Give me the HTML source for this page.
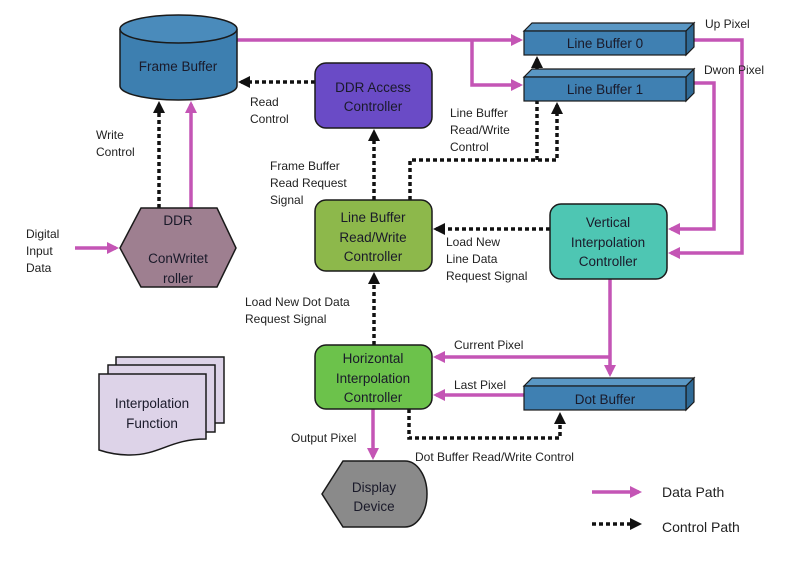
<!DOCTYPE html>
<html><head><meta charset="utf-8"><style>
body{margin:0;background:#fff}
svg{display:block}
.l{font-family:"Liberation Sans",Arial,sans-serif;font-size:12px;fill:#222}
.n{font-family:"Liberation Sans",Arial,sans-serif;font-size:13.5px;fill:#1a1a2a;text-anchor:middle}
</style></head><body>
<svg width="800" height="570" viewBox="0 0 800 570">
<defs>
<marker id="am" markerWidth="12" markerHeight="12" refX="9" refY="6" orient="auto" markerUnits="userSpaceOnUse"><path d="M0,0 L12,6 L0,12 z" fill="#c455b5"/></marker>
<marker id="ak" markerWidth="12" markerHeight="12" refX="9" refY="6" orient="auto" markerUnits="userSpaceOnUse"><path d="M0,0 L12,6 L0,12 z" fill="#111"/></marker>
</defs>
<g fill="none" stroke="#c455b5" stroke-width="3.5">
<path d="M237,40 H520" marker-end="url(#am)"/>
<path d="M472,40 V85 H520" marker-end="url(#am)"/>
<path d="M688,40 H742 V253 H671" marker-end="url(#am)"/>
<path d="M688,83 H714 V229 H671" marker-end="url(#am)"/>
<path d="M610,279 V374" marker-end="url(#am)"/>
<path d="M610,357 H436" marker-end="url(#am)"/>
<path d="M524,395 H436" marker-end="url(#am)"/>
<path d="M191,208 V104" marker-end="url(#am)"/>
<path d="M75,248 H116" marker-end="url(#am)"/>
<path d="M373,409 V457" marker-end="url(#am)"/>
<path d="M592,492 H639" marker-end="url(#am)"/>
</g>
<g fill="none" stroke="#111" stroke-width="3.5" stroke-dasharray="4,3">
<path d="M159,208 V104" marker-end="url(#ak)"/>
<path d="M315,82 H241" marker-end="url(#ak)"/>
<path d="M374,200 V132" marker-end="url(#ak)"/>
<path d="M410,200 V160 H557 V105" marker-end="url(#ak)"/>
<path d="M537,160 V59" marker-end="url(#ak)"/>
<path d="M550,229 H436" marker-end="url(#ak)"/>
<path d="M374,345 V275" marker-end="url(#ak)"/>
<path d="M409,409 V438 H560 V415" marker-end="url(#ak)"/>
<path d="M592,524 H639" marker-end="url(#ak)"/>
</g>
<g stroke="#1a1a1a" stroke-width="1.5">
<path d="M120,29 V86 A58.5,14 0 0 0 237,86 V29" fill="#3d7fb0"/>
<ellipse cx="178.5" cy="29" rx="58.5" ry="14" fill="#4a8bbb"/>
</g>
<text class="n" x="178" y="71">Frame Buffer</text>
<g stroke="#1a1a1a" stroke-width="1.2">
<path d="M524,31 L532,23 H694 L686,31 z" fill="#5a97c4"/>
<path d="M686,31 L694,23 V47 L686,55 z" fill="#2f6a96"/>
<rect x="524" y="31" width="162" height="24" fill="#3f80b2"/>
<path d="M524,77 L532,69 H694 L686,77 z" fill="#5a97c4"/>
<path d="M686,77 L694,69 V93 L686,101 z" fill="#2f6a96"/>
<rect x="524" y="77" width="162" height="24" fill="#3f80b2"/>
<path d="M524,386 L532,378 H694 L686,386 z" fill="#5a97c4"/>
<path d="M686,386 L694,378 V402 L686,410 z" fill="#2f6a96"/>
<rect x="524" y="386" width="162" height="24" fill="#3f80b2"/>
</g>
<text class="n" x="605" y="48">Line Buffer 0</text>
<text class="n" x="605" y="94">Line Buffer 1</text>
<text class="n" x="605" y="404">Dot Buffer</text>
<g stroke="#1a1a1a" stroke-width="1.5">
<rect x="315" y="63" width="117" height="65" rx="11" fill="#6a4bc6"/>
<rect x="315" y="200" width="117" height="71" rx="11" fill="#8db84b"/>
<rect x="550" y="204" width="117" height="75" rx="11" fill="#4ec6b3"/>
<rect x="315" y="345" width="117" height="64" rx="11" fill="#6cc24b"/>
<path d="M141,208 H217 L236,248 L217,287 H141 L120,248 z" fill="#9e7f90"/>
<path d="M343,461 H405 A22,33 0 0 1 405,527 H343 L322,494 z" fill="#8a8a8a"/>
<rect x="116" y="357" width="108" height="66" fill="#ddd3e8"/>
<rect x="108" y="365" width="107" height="67" fill="#ddd3e8"/>
<path d="M99,374 H206 V439 C170,439 160,455 130,455 C115,455 105,452 99,450 z" fill="#ddd3e8"/>
</g>
<text class="n" x="373" y="92">DDR Access</text><text class="n" x="373" y="111">Controller</text>
<text class="n" x="373" y="222">Line Buffer</text><text class="n" x="373" y="242">Read/Write</text><text class="n" x="373" y="261">Controller</text>
<text class="n" x="608" y="227">Vertical</text><text class="n" x="608" y="247">Interpolation</text><text class="n" x="608" y="266">Controller</text>
<text class="n" x="373" y="363">Horizontal</text><text class="n" x="373" y="383">Interpolation</text><text class="n" x="373" y="402">Controller</text>
<text class="n" x="178" y="225">DDR</text>
<text class="n" x="178" y="263">ConWritet</text><text class="n" x="178" y="283">roller</text>
<text class="n" x="374" y="492">Display</text><text class="n" x="374" y="511">Device</text>
<text class="n" x="152" y="408">Interpolation</text><text class="n" x="152" y="428">Function</text>
<text class="l" x="705" y="28">Up Pixel</text>
<text class="l" x="704" y="74">Dwon Pixel</text>
<text class="l" x="250" y="106">Read</text><text class="l" x="250" y="123">Control</text>
<text class="l" x="96" y="139">Write</text><text class="l" x="96" y="156">Control</text>
<text class="l" x="450" y="117">Line Buffer</text><text class="l" x="450" y="134">Read/Write</text><text class="l" x="450" y="151">Control</text>
<text class="l" x="270" y="170">Frame Buffer</text><text class="l" x="270" y="187">Read Request</text><text class="l" x="270" y="204">Signal</text>
<text class="l" x="446" y="246">Load New</text><text class="l" x="446" y="263">Line Data</text><text class="l" x="446" y="280">Request Signal</text>
<text class="l" x="26" y="238">Digital</text><text class="l" x="26" y="255">Input</text><text class="l" x="26" y="272">Data</text>
<text class="l" x="245" y="306">Load New Dot Data</text><text class="l" x="245" y="323">Request Signal</text>
<text class="l" x="454" y="349">Current Pixel</text>
<text class="l" x="454" y="389">Last Pixel</text>
<text class="l" x="291" y="442">Output Pixel</text>
<text class="l" x="415" y="461">Dot Buffer Read/Write Control</text>
<text class="l" x="662" y="497" style="font-size:14px">Data Path</text>
<text class="l" x="662" y="532" style="font-size:14px">Control Path</text>
</svg>
</body></html>
